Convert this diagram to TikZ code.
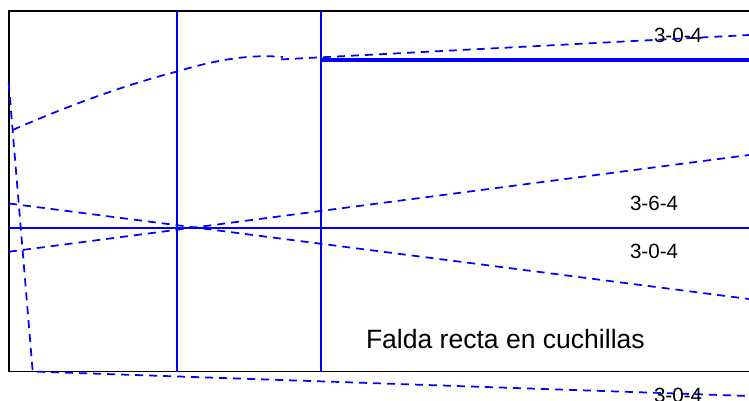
\documentclass[tikz,border=0pt]{standalone}
\usepackage{fontspec}
\setmainfont{Liberation Sans}
\tikzset{
  pxl/.style={x=0.75pt,y=-0.75pt},
  vguide/.style={draw=blue,line width=1.1pt},
  hguide/.style={draw=blue,line width=1.6pt},
  heavyline/.style={draw=blue,line width=3pt},
  dashline/.style={draw=blue,line width=1.3pt,dash pattern=on 6pt off 4.5pt},
  frameline/.style={draw=black,line width=1.2pt},
  smalllabel/.style={anchor=base west,inner sep=0pt,outer sep=0pt,font=\fontsize{15.45pt}{18pt}\selectfont,text=black},
  biglabel/.style={anchor=base west,inner sep=0pt,outer sep=0pt,font=\fontsize{19.9pt}{23pt}\selectfont,text=black}
}
\begin{document}
\begin{tikzpicture}[pxl]
\useasboundingbox (0,0) rectangle (749,400);
\clip (0,0) rectangle (749,400);
\coordinate (tl) at (9,11);
\coordinate (tr) at (749,11);
\coordinate (bl) at (9,371.5);
\coordinate (br) at (749,371.5);
\coordinate (a1) at (177,11);
\coordinate (a2) at (177,371.5);
\coordinate (b1) at (321,11);
\coordinate (b2) at (321,371.5);
\coordinate (h1) at (321,59.5);
\coordinate (h2) at (749,59.5);
\coordinate (s1) at (8.7,83);
\coordinate (s2) at (32.7,371.5);
\coordinate (e1) at (749,396);
\coordinate (c0) at (12.5,130);
\coordinate (c1) at (177,71.5);
\coordinate (c2) at (283,57);
\coordinate (l0) at (281,59.4);
\coordinate (l1) at (749,35);
\coordinate (d1) at (9,203.5);
\coordinate (d2) at (749,299);
\coordinate (f1) at (9,251.7);
\coordinate (f2) at (749,155);
\coordinate (midL) at (9,228);
\coordinate (midR) at (749,228);
\draw[frameline] (tr) -- (tl) -- (bl) -- (br);
\draw[vguide] (a1) -- (a2);
\draw[vguide] (b1) -- (b2);
\draw[heavyline] (h1) -- (h2);
\draw[dashline] (s1) -- (s2) -- (e1);
\draw[dashline] (c0) .. controls (70,105) and (125,85) .. (c1) .. controls (215,60) and (250,54) .. (c2);
\draw[dashline] (l0) -- (l1);
\draw[dashline] (d1) -- (d2);
\draw[dashline] (f1) -- (f2);
\node[smalllabel] (t1) at (654,42) {3-0-4};
\node[smalllabel] (t2) at (630,210) {3-6-4};
\node[smalllabel] (t3) at (630,258) {3-0-4};
\node[smalllabel] (t4) at (654,402) {3-0-4};
\node[biglabel] (t5) at (366,348) {Falda recta en cuchillas};
\draw[hguide] (midL) -- (midR);
\end{tikzpicture}
\end{document}
